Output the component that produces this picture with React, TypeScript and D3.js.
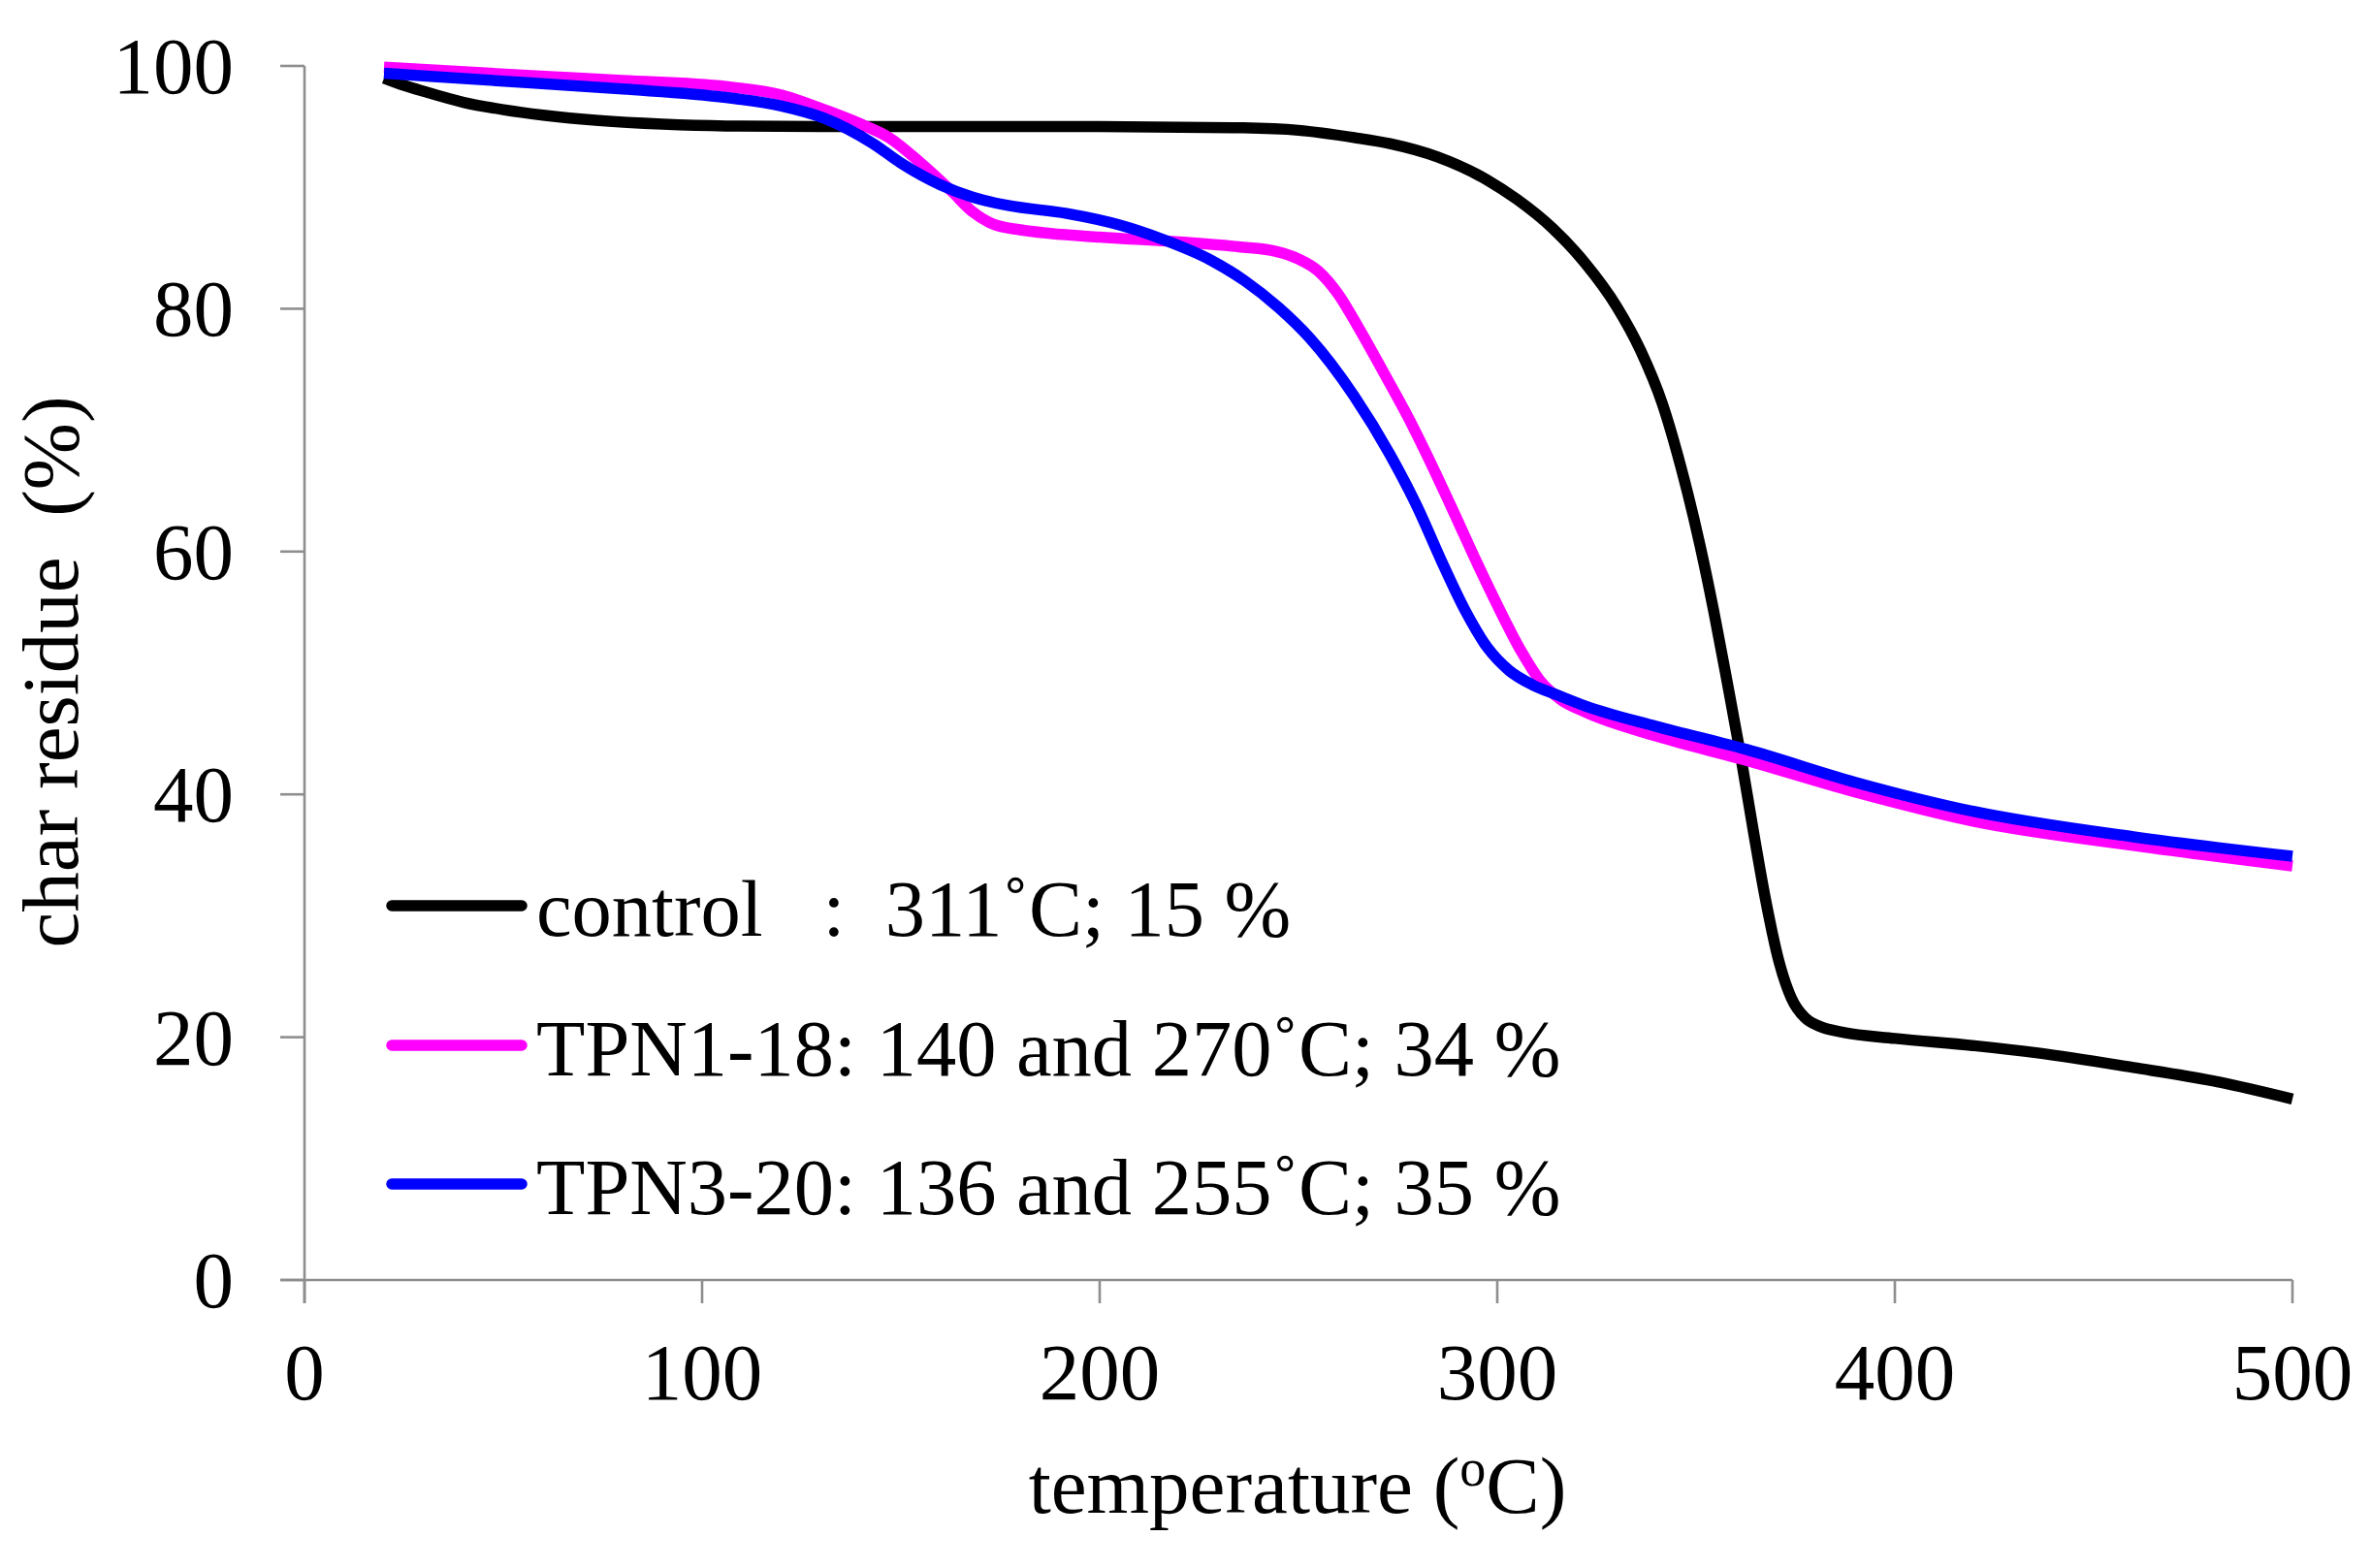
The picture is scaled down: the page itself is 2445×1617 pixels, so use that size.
import React from "react";
import * as d3 from "d3";

// ---- data ----
const controlT = [20, 25, 30, 40, 50, 60, 74, 90, 106, 130, 150, 200, 236, 250, 264, 273, 285, 297.5, 305, 314, 322, 330, 336, 341.5, 346, 351, 354.5, 357.8, 361, 364.4, 367.5, 370.8, 374, 377.4, 381, 387, 400, 420, 436, 460, 480, 500];
const controlV = [99.0, 98.4, 97.9, 97.0, 96.4, 95.95, 95.5, 95.2, 95.05, 95.0, 95.0, 95.0, 94.9, 94.7, 94.1, 93.6, 92.5, 90.6, 89.0, 86.6, 83.8, 80.2, 76.6, 72.2, 67.2, 60.5, 55.0, 49.3, 43.6, 37.0, 31.3, 26.3, 23.2, 21.6, 20.9, 20.4, 19.9, 19.3, 18.7, 17.5, 16.4, 14.9];

const tpn1T = [20, 57, 80, 106, 120, 130.7, 140, 147, 155, 163, 168, 173, 180, 187.6, 200, 220, 235, 244.7, 250, 255, 260, 265, 271, 278, 284, 289.4, 295, 300.9, 306, 310.7, 316, 322, 340, 362.7, 390, 419.7, 460, 500];
const tpn1V = [99.9, 99.2, 98.8, 98.3, 97.6, 96.4, 95.2, 94.1, 92.0, 89.6, 88.0, 87.0, 86.5, 86.2, 85.9, 85.5, 85.1, 84.7, 84.1, 83.1, 81.2, 78.5, 75.0, 70.8, 66.8, 63.0, 59.0, 55.0, 51.8, 49.4, 47.8, 46.8, 44.8, 42.8, 40.2, 37.8, 35.8, 34.1];

const tpn3T = [20, 57, 80, 106, 120, 130.7, 143, 150, 160, 168, 177, 191.7, 205, 216, 228, 236.5, 245, 252.8, 264, 273, 280, 286, 292, 297.5, 303, 309, 315, 322, 340, 362.7, 390, 419.7, 460, 500];
const tpn3V = [99.4, 98.6, 98.1, 97.4, 96.7, 95.7, 93.6, 92.0, 90.2, 89.2, 88.5, 87.85, 86.9, 85.7, 84.0, 82.3, 80.1, 77.6, 72.8, 68.0, 63.6, 59.2, 55.1, 52.1, 50.2, 49.0, 48.2, 47.3, 45.6, 43.7, 41.0, 38.6, 36.5, 34.9];

const seriesNames = ["control", "TPN1-18", "TPN3-20"];
const seriesColors = ["#000000", "#ff00ff", "#0000ff"];
const legendLabels = [
  "control   :  311\u02DAC; 15 %",
  "TPN1-18: 140 and 270\u02DAC; 34 %",
  "TPN3-20: 136 and 255\u02DAC; 35 %",
];
const xTicks = [0, 100, 200, 300, 400, 500];
const yTicks = [0, 20, 40, 60, 80, 100];

const W = 2445;
const H = 1617;
const FONT = "'Liberation Serif', 'Times New Roman', serif";

export default function App() {
  const x = d3.scaleLinear().domain([0, 500]).range([314, 2364]);
  const y = d3.scaleLinear().domain([0, 100]).range([1320, 68]);

  const series = [
    { t: controlT, v: controlV },
    { t: tpn1T, v: tpn1V },
    { t: tpn3T, v: tpn3V },
  ];

  const line = d3
    .line<[number, number]>()
    .x((d) => x(d[0]))
    .y((d) => y(d[1]))
    .curve(d3.curveMonotoneX);

  const axisColor = "#8e8e8e";
  const legendY = [934, 1078, 1221];

  return (
    <svg
      width={W}
      height={H}
      viewBox={`0 0 ${W} ${H}`}
      style={{ position: "absolute", left: 0, top: 0, background: "#fff" }}
      fontFamily={FONT}
    >
      <rect x={0} y={0} width={W} height={H} fill="#fff" />
      {/* y axis */}
      <line x1={x(0)} x2={x(0)} y1={y(100)} y2={y(0) + 24} stroke={axisColor} strokeWidth={2.6} />
      {yTicks.map((v) => (
        <g key={"yt" + v}>
          <line x1={x(0) - 25} x2={x(0)} y1={y(v)} y2={y(v)} stroke={axisColor} strokeWidth={2.6} />
          <text x={241} y={y(v) + 28} textAnchor="end" fontSize={83} fill="#000">
            {v}
          </text>
        </g>
      ))}
      {/* x axis */}
      <line x1={x(0) - 25} x2={x(500)} y1={y(0)} y2={y(0)} stroke={axisColor} strokeWidth={2.6} />
      {xTicks.map((t) => (
        <g key={"xt" + t}>
          <line x1={x(t)} x2={x(t)} y1={y(0)} y2={y(0) + 24} stroke={axisColor} strokeWidth={2.6} />
          <text x={x(t)} y={1443} textAnchor="middle" fontSize={83} fill="#000">
            {t}
          </text>
        </g>
      ))}

      {/* curves */}
      {series.map((s, i) => {
        const pts = s.t.map((t, j) => [t, s.v[j]] as [number, number]);
        return (
          <path
            key={seriesNames[i]}
            d={line(pts) || ""}
            fill="none"
            stroke={seriesColors[i]}
            strokeWidth={11.5}
            strokeLinejoin="round"
          />
        );
      })}

      {/* legend */}
      {legendLabels.map((lab, i) => (
        <g key={"lg" + i}>
          <line
            x1={404}
            x2={538}
            y1={legendY[i]}
            y2={legendY[i]}
            stroke={seriesColors[i]}
            strokeWidth={11.5}
            strokeLinecap="round"
          />
          <text x={553} y={legendY[i] + 31} fontSize={82.5} fill="#000" style={{ whiteSpace: "pre" }}>
            {lab}
          </text>
        </g>
      ))}

      {/* axis titles */}
      <text
        transform="translate(80,693) rotate(-90)"
        textAnchor="middle"
        fontSize={83}
        fill="#000"
        style={{ whiteSpace: "pre" }}
      >
        {"char residue  (%)"}
      </text>
      <text x={1338} y={1560} textAnchor="middle" fontSize={83} fill="#000">
        <tspan>temperature (</tspan>
        <tspan fontSize={54} dy={-28}>o</tspan>
        <tspan dy={28}>C)</tspan>
      </text>
    </svg>
  );
}
